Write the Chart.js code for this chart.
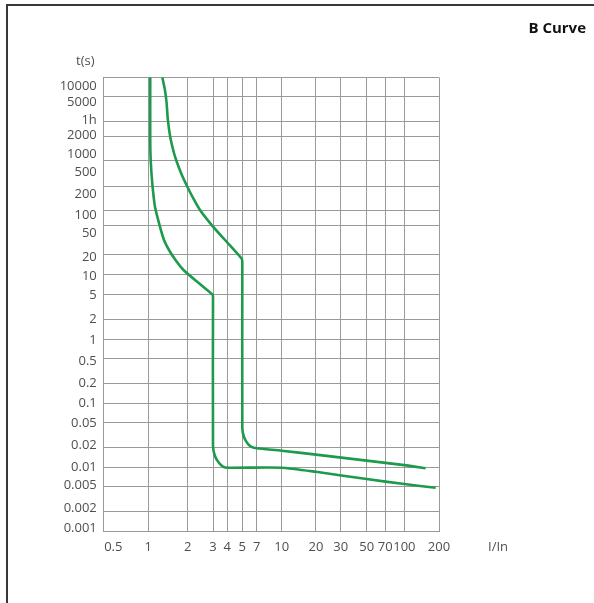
<!DOCTYPE html>
<html>
<head>
<meta charset="utf-8">
<script src="https://cdn.jsdelivr.net/npm/chart.js@4/dist/chart.umd.min.js"></script>
<style>
  html, body { margin: 0; padding: 0; background: #fff; }
  #wrap { position: relative; width: 594px; height: 603px; overflow: hidden; }
  #frame { position: absolute; left: 6px; top: 4px; right: 0; bottom: 0;
           border-top: 2px solid #3d3636; border-left: 2px solid #3d3636; }
  canvas { position: absolute; left: 0; top: 0; }
</style>
</head>
<body>
<div id="wrap">
  <div id="frame"></div>
  <canvas id="c" width="594" height="603"></canvas>
</div>
<script>
// ---------------- data ----------------
const chartTitle = 'B Curve';
const xTitle = 'I/In';
const yTitle = 't(s)';

// x axis (I/In) tick values and labels
const tickX = [0.5, 1, 2, 3, 4, 5, 7, 10, 20, 30, 50, 70, 100, 200];
const tickXLabels = ['0.5', '1', '2', '3', '4', '5', '7', '10', '20', '30', '50', '70', '100', '200'];

// y axis (t in seconds) tick values and labels
const tickY = [0.001, 0.002, 0.005, 0.01, 0.02, 0.05, 0.1, 0.2, 0.5, 1, 2, 5, 10, 20, 50, 100, 200, 500, 1000, 2000, 3600, 5000, 10000];
const tickYLabels = ['0.001', '0.002', '0.005', '0.01', '0.02', '0.05', '0.1', '0.2', '0.5', '1', '2', '5', '10', '20', '50', '100', '200', '500', '1000', '2000', '1h', '5000', '10000'];

// values at which horizontal grid lines are ruled
const gridY = [0.001, 0.002, 0.005, 0.01, 0.02, 0.05, 0.1, 0.2, 0.5, 1, 2, 5, 10, 20, 100, 200, 500, 1000, 2000, 3600, 5000, 10000];

// lower tripping curve
const lowerX = [1.035, 1.035, 1.043, 1.073, 1.125, 1.228, 1.318, 1.439, 1.614, 1.858, 2.397, 2.906, 2.99, 3, 3, 3.12, 3.39, 3.67, 4, 10, 20, 50, 100, 187];
const lowerY = [10000, 1820, 1029, 543, 232, 92.7, 45.1, 26.2, 16.7, 11.73, 7.43, 5.29, 5, 4.5, 0.021, 0.0149, 0.0117, 0.0104, 0.01, 0.01, 0.0086, 0.0066, 0.0055, 0.0048];

// upper tripping curve
const upperX = [1.28, 1.34, 1.38, 1.41, 1.47, 1.571, 1.642, 1.778, 1.975, 2.16, 2.435, 2.939, 3.819, 4.60, 4.97, 5, 5, 5.2, 5.71, 6.27, 7, 10, 20, 50, 100, 153];
const upperY = [10000, 6400, 4600, 3700, 2000, 1256, 1000, 720, 504, 335, 205, 101, 45.1, 22.3, 17.3, 15.5, 0.041, 0.0294, 0.0226, 0.0201, 0.0193, 0.0178, 0.0156, 0.0127, 0.0109, 0.0098];

// ---------------- axis geometry (fraction of axis length for each stop) ----------------
const X_FRACS = [0.0298, 0.1340, 0.2514, 0.3268, 0.3694, 0.4141, 0.4570, 0.5314, 0.6336, 0.7072, 0.7846, 0.8397, 0.8969, 1.0];
const Y_LABEL_FRACS = [0.0055, 0.0507, 0.1014, 0.1411, 0.1885, 0.2375, 0.2816, 0.3257, 0.3749, 0.4212, 0.4668, 0.5204, 0.5608, 0.6042, 0.6571, 0.6953, 0.7431, 0.7916, 0.8313, 0.8717, 0.9063, 0.9453, 0.9797];
const Y_GRID_FRACS = [0, 0.0434, 0.0977, 0.1396, 0.1846, 0.2388, 0.2816, 0.3257, 0.3808, 0.4227, 0.4668, 0.5204, 0.5656, 0.6086, 0.6741, 0.7063, 0.7601, 0.8159, 0.8695, 0.9030, 0.9577, 1.0];

// ---------------- piecewise logarithmic scale ----------------
function seg(lv, logs) {
  let i = 0;
  while (i < logs.length - 2 && lv > logs[i + 1]) i++;
  return i;
}
class WarpScale extends Chart.Scale {
  determineDataLimits() {
    const s = this.options.stops;
    this.min = s[0];
    this.max = s[s.length - 1];
  }
  buildTicks() {
    return this.options.stops.map(v => ({ value: v }));
  }
  getLabelForValue(v) { return String(v); }
  _frac(v) {
    const logs = this.options.stops.map(Math.log10);
    const fr = this.options.fracs;
    const lv = Math.log10(v);
    const i = seg(lv, logs);
    return fr[i] + (lv - logs[i]) / (logs[i + 1] - logs[i]) * (fr[i + 1] - fr[i]);
  }
  getPixelForValue(v) {
    if (v === null || v === undefined || isNaN(v) || v <= 0) return NaN;
    return this.getPixelForDecimal(this._frac(v));
  }
  getValueForPixel(p) {
    const d = this.getDecimalForPixel(p);
    const logs = this.options.stops.map(Math.log10);
    const fr = this.options.fracs;
    let i = 0;
    while (i < fr.length - 2 && d > fr[i + 1]) i++;
    const lv = logs[i] + (d - fr[i]) / (fr[i + 1] - fr[i]) * (logs[i + 1] - logs[i]);
    return Math.pow(10, lv);
  }
  getBasePixel() { return this.getPixelForDecimal(0); }
}
WarpScale.id = 'warp';
WarpScale.defaults = {};
Chart.register(WarpScale);

// ---------------- helpers ----------------
const toPoints = (xs, ys) => xs.map((x, i) => ({ x: x, y: ys[i] }));
const LABEL_FONT = { family: '"Open Sans", "Liberation Sans", sans-serif', size: 13 };
const LABEL_COLOR = '#4f4f4f';
const GRID_COLOR = '#9a9a9a';
const CURVE_COLOR = '#1d9a4b';

const axisTexts = {
  id: 'axisTexts',
  afterDraw(chart) {
    const ctx = chart.ctx;
    const xs = chart.scales.x;
    const area = chart.chartArea;
    ctx.save();
    ctx.font = '13px "Open Sans", "Liberation Sans", sans-serif';
    ctx.fillStyle = LABEL_COLOR;
    ctx.textAlign = 'center';
    ctx.textBaseline = 'middle';
    ctx.fillText(yTitle, area.left - 18, area.top - 16);
    ctx.fillText(xTitle, xs.right + 59, xs.top + 16);
    ctx.restore();
  }
};

new Chart(document.getElementById('c'), {
  type: 'line',
  data: {
    datasets: [
      { label: 'lower', data: toPoints(lowerX, lowerY) },
      { label: 'upper', data: toPoints(upperX, upperY) }
    ]
  },
  options: {
    responsive: false,
    animation: false,
    devicePixelRatio: 1,
    layout: { padding: { left: 0, right: 8, top: 0, bottom: 0 } },
    elements: {
      line: { borderColor: CURVE_COLOR, borderWidth: 2.6, tension: 0.2, borderJoinStyle: 'round', borderCapStyle: 'butt' },
      point: { radius: 0 }
    },
    plugins: {
      legend: { display: false },
      tooltip: { enabled: false },
      title: {
        display: true,
        text: chartTitle,
        align: 'end',
        color: '#111',
        font: { family: '"Open Sans", "Liberation Sans", sans-serif', size: 15, weight: 'bold' },
        padding: { top: 20, bottom: 39.5 }
      }
    },
    scales: {
      x: {
        type: 'warp',
        position: 'bottom',
        stops: tickX,
        fracs: X_FRACS,
        afterFit: s => { s.height = 72; },
        grid: {
          drawTicks: false,
          lineWidth: 1,
          color: c => (c.tick && c.tick.value === tickX[0]) ? 'rgba(0,0,0,0)' : GRID_COLOR
        },
        border: { display: true, color: GRID_COLOR, width: 1 },
        ticks: {
          autoSkip: false, maxRotation: 0, padding: 8,
          color: LABEL_COLOR, font: LABEL_FONT,
          callback: (v, i) => tickXLabels[i]
        }
      },
      y: {
        type: 'warp',
        position: 'left',
        weight: 0,
        stops: gridY,
        fracs: Y_GRID_FRACS,
        afterFit: s => { s.width = 0; },
        grid: { drawTicks: false, lineWidth: 1, color: GRID_COLOR },
        border: { display: true, color: GRID_COLOR, width: 1 },
        ticks: { display: false, autoSkip: false }
      },
      yl: {
        type: 'warp',
        position: 'left',
        weight: 1,
        stops: tickY,
        fracs: Y_LABEL_FRACS,
        afterFit: s => { s.width = 103.3; },
        grid: { display: false, drawTicks: false },
        border: { display: false },
        ticks: {
          autoSkip: false, padding: 6.5,
          color: LABEL_COLOR, font: LABEL_FONT,
          callback: (v, i) => tickYLabels[i]
        }
      },
      pad: {
        type: 'linear',
        position: 'right',
        afterFit: s => { s.width = 147; },
        grid: { display: false, drawTicks: false },
        border: { display: false },
        ticks: { display: false }
      }
    }
  },
  plugins: [axisTexts]
});
</script>
</body>
</html>
